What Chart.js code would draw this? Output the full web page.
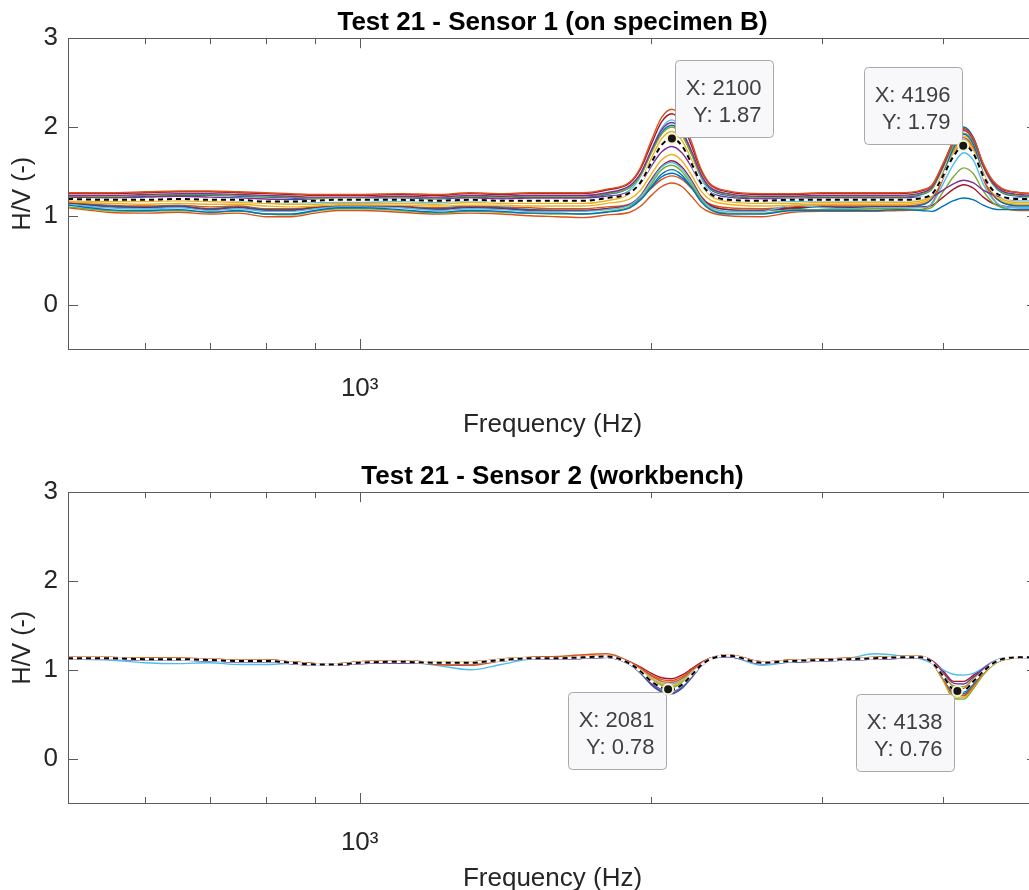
<!DOCTYPE html>
<html>
<head>
<meta charset="utf-8">
<title>Test 21 - H/V</title>
<script src="https://cdn.jsdelivr.net/npm/chart.js@4.4.1/dist/chart.umd.min.js"></script>
<style>
  html, body { margin: 0; padding: 0; background: #fff; overflow: hidden; }
  .panel { width: 1045px; height: 454px; }
</style>
</head>
<body>
<div class="panel"><canvas id="sensor1" width="1045" height="454"></canvas></div>
<div class="panel"><canvas id="sensor2" width="1045" height="454"></canvas></div>
<script>
// frequency grid (Hz), shared by every curve
const freq = [500, 550, 600, 650, 700, 750, 800, 850, 900, 950, 1000,
  1100, 1200, 1300, 1400, 1500, 1600, 1700, 1800,
  1900, 1950, 2000, 2050, 2100, 2150, 2200, 2250, 2300, 2400,
  2600, 2800, 3000, 3200, 3400, 3600, 3800,
  3900, 4000, 4100, 4200, 4300, 4400, 4500, 4600, 4800, 5000];

const xTicks = [500, 600, 700, 800, 900, 1000, 2000, 3000, 4000];
const yTicks = [0, 1, 2, 3];

// === Sensor 1 (on specimen B) ===
const s1Mean = [1.19,1.18,1.18,1.19,1.18,1.18,1.16,1.16,1.17,1.18,1.18,1.18,1.17,1.18,1.17,1.17,1.17,1.17,1.20,1.26,1.38,1.60,1.80,1.87,1.79,1.59,1.37,1.25,1.18,1.17,1.18,1.18,1.18,1.18,1.18,1.20,1.25,1.45,1.67,1.79,1.70,1.45,1.29,1.22,1.19,1.19];
const s1Runs = [
  [1.12,1.07,1.06,1.07,1.04,1.06,1.02,1.02,1.06,1.09,1.09,1.07,1.04,1.06,1.05,1.03,1.03,1.02,1.04,1.09,1.18,1.33,1.47,1.52,1.46,1.32,1.16,1.07,1.02,1.02,1.06,1.06,1.06,1.06,1.07,1.06,1.05,1.11,1.17,1.20,1.18,1.12,1.08,1.07,1.07,1.07],
  [1.26,1.26,1.27,1.28,1.28,1.27,1.26,1.25,1.24,1.24,1.24,1.25,1.24,1.26,1.25,1.26,1.26,1.26,1.30,1.38,1.55,1.85,2.11,2.20,2.09,1.83,1.53,1.36,1.28,1.25,1.25,1.26,1.26,1.26,1.26,1.29,1.35,1.59,1.83,1.97,1.87,1.59,1.40,1.31,1.26,1.25],
  [1.16,1.14,1.13,1.14,1.13,1.13,1.11,1.10,1.11,1.12,1.12,1.12,1.11,1.12,1.12,1.11,1.11,1.11,1.14,1.19,1.29,1.47,1.63,1.69,1.62,1.46,1.28,1.18,1.13,1.11,1.12,1.13,1.13,1.13,1.13,1.15,1.22,1.45,1.71,1.85,1.74,1.46,1.26,1.17,1.13,1.13],
  [1.21,1.20,1.21,1.22,1.21,1.20,1.19,1.18,1.18,1.18,1.18,1.19,1.18,1.20,1.19,1.20,1.20,1.20,1.22,1.27,1.37,1.56,1.72,1.78,1.71,1.55,1.36,1.26,1.21,1.19,1.19,1.20,1.20,1.20,1.20,1.21,1.22,1.29,1.36,1.40,1.37,1.29,1.24,1.21,1.20,1.19],
  [1.10,1.06,1.05,1.06,1.04,1.05,1.02,1.01,1.05,1.08,1.08,1.06,1.03,1.05,1.04,1.03,1.02,1.02,1.05,1.10,1.19,1.36,1.52,1.57,1.50,1.35,1.18,1.08,1.03,1.03,1.07,1.07,1.07,1.08,1.08,1.07,1.10,1.27,1.44,1.54,1.47,1.28,1.15,1.09,1.07,1.07],
  [1.13,1.09,1.08,1.09,1.06,1.08,1.05,1.05,1.08,1.10,1.10,1.09,1.06,1.08,1.07,1.05,1.05,1.05,1.07,1.12,1.22,1.39,1.55,1.60,1.53,1.38,1.20,1.10,1.05,1.05,1.12,1.09,1.08,1.09,1.09,1.09,1.14,1.36,1.58,1.71,1.62,1.36,1.19,1.11,1.09,1.09],
  [1.14,1.10,1.09,1.10,1.07,1.09,1.06,1.06,1.09,1.11,1.11,1.10,1.07,1.09,1.08,1.06,1.06,1.06,1.08,1.13,1.23,1.41,1.56,1.62,1.55,1.40,1.22,1.12,1.07,1.06,1.09,1.10,1.09,1.10,1.10,1.10,1.12,1.21,1.30,1.35,1.31,1.21,1.14,1.11,1.09,1.09],
  [1.14,1.11,1.10,1.11,1.08,1.10,1.07,1.07,1.09,1.11,1.11,1.10,1.08,1.10,1.09,1.07,1.06,1.06,1.08,1.12,1.19,1.32,1.44,1.48,1.43,1.32,1.18,1.11,1.07,1.06,1.08,1.10,1.10,1.10,1.10,1.12,1.20,1.47,1.76,1.92,1.80,1.47,1.25,1.15,1.11,1.11],
  [1.09,1.04,1.03,1.04,1.02,1.03,0.99,0.99,1.03,1.06,1.06,1.04,1.02,1.03,1.02,1.00,0.99,0.98,1.01,1.04,1.11,1.23,1.33,1.37,1.33,1.22,1.10,1.04,1.00,0.99,1.04,1.05,1.05,1.05,1.06,1.07,1.15,1.42,1.71,1.88,1.76,1.42,1.20,1.10,1.06,1.06],
  [1.17,1.16,1.16,1.17,1.16,1.15,1.14,1.13,1.13,1.14,1.14,1.14,1.13,1.15,1.14,1.14,1.14,1.14,1.17,1.25,1.39,1.65,1.87,1.95,1.85,1.63,1.37,1.23,1.16,1.14,1.14,1.15,1.15,1.15,1.15,1.17,1.24,1.49,1.75,1.90,1.79,1.49,1.29,1.19,1.15,1.15],
  [1.23,1.23,1.24,1.25,1.25,1.24,1.23,1.22,1.21,1.21,1.21,1.22,1.21,1.23,1.22,1.23,1.23,1.23,1.26,1.34,1.48,1.74,1.97,2.05,1.95,1.73,1.47,1.32,1.25,1.22,1.22,1.23,1.23,1.23,1.23,1.26,1.33,1.56,1.82,1.96,1.85,1.56,1.37,1.28,1.24,1.23],
  [1.22,1.22,1.23,1.24,1.24,1.23,1.22,1.21,1.20,1.20,1.20,1.21,1.20,1.22,1.21,1.22,1.22,1.22,1.25,1.32,1.46,1.71,1.92,2.00,1.91,1.69,1.45,1.31,1.24,1.21,1.21,1.22,1.22,1.22,1.22,1.25,1.31,1.54,1.79,1.93,1.83,1.55,1.36,1.27,1.23,1.22],
  [1.19,1.18,1.18,1.19,1.18,1.17,1.16,1.15,1.15,1.15,1.15,1.16,1.15,1.17,1.16,1.17,1.17,1.17,1.21,1.29,1.45,1.74,1.99,2.08,1.97,1.72,1.43,1.27,1.19,1.16,1.16,1.17,1.17,1.17,1.17,1.19,1.25,1.48,1.72,1.86,1.76,1.48,1.29,1.21,1.17,1.17],
  [1.25,1.25,1.26,1.27,1.27,1.26,1.25,1.24,1.23,1.23,1.23,1.24,1.23,1.25,1.24,1.25,1.25,1.25,1.29,1.37,1.53,1.81,2.06,2.15,2.04,1.79,1.51,1.35,1.27,1.24,1.24,1.25,1.25,1.25,1.25,1.28,1.35,1.58,1.84,1.98,1.87,1.58,1.39,1.30,1.26,1.25],
  [1.22,1.21,1.22,1.23,1.23,1.22,1.21,1.20,1.19,1.19,1.19,1.20,1.19,1.21,1.20,1.21,1.21,1.21,1.24,1.32,1.46,1.72,1.94,2.02,1.92,1.70,1.44,1.30,1.23,1.20,1.20,1.21,1.21,1.21,1.21,1.24,1.31,1.57,1.84,2.00,1.88,1.57,1.36,1.26,1.22,1.21],
  [1.15,1.12,1.11,1.12,1.10,1.11,1.08,1.08,1.10,1.12,1.12,1.11,1.09,1.11,1.10,1.09,1.08,1.08,1.10,1.13,1.20,1.31,1.41,1.45,1.41,1.31,1.19,1.13,1.09,1.08,1.10,1.11,1.11,1.11,1.11,1.13,1.20,1.43,1.68,1.82,1.71,1.43,1.24,1.15,1.12,1.12]
];
const s1TipX = [2100, 4196];
const s1TipY = [1.87, 1.79];

// === Sensor 2 (workbench) ===
const s2Mean = [1.13,1.13,1.12,1.12,1.11,1.10,1.10,1.08,1.06,1.06,1.08,1.09,1.08,1.08,1.11,1.13,1.13,1.14,1.15,1.07,0.98,0.87,0.80,0.78,0.83,0.94,1.05,1.12,1.16,1.08,1.10,1.11,1.12,1.13,1.14,1.14,1.08,0.93,0.78,0.77,0.87,0.98,1.07,1.12,1.14,1.14];
const s2Runs = [
  [1.13,1.13,1.12,1.12,1.11,1.10,1.10,1.08,1.06,1.06,1.08,1.09,1.08,1.08,1.11,1.13,1.13,1.14,1.15,1.07,0.98,0.87,0.80,0.78,0.83,0.94,1.05,1.12,1.16,1.08,1.10,1.11,1.12,1.13,1.14,1.14,1.08,0.92,0.76,0.75,0.85,0.97,1.07,1.12,1.14,1.14],
  [1.14,1.14,1.13,1.13,1.12,1.11,1.11,1.09,1.07,1.07,1.09,1.10,1.06,1.05,1.10,1.14,1.15,1.17,1.18,1.09,1.02,0.94,0.89,0.88,0.92,1.00,1.07,1.13,1.17,1.09,1.11,1.12,1.13,1.14,1.15,1.15,1.07,0.90,0.72,0.71,0.82,0.96,1.06,1.11,1.14,1.15],
  [1.14,1.14,1.13,1.13,1.12,1.11,1.11,1.09,1.07,1.07,1.09,1.10,1.09,1.09,1.12,1.14,1.14,1.15,1.16,1.08,1.00,0.90,0.84,0.82,0.87,0.96,1.06,1.12,1.17,1.09,1.11,1.12,1.13,1.14,1.15,1.15,1.07,0.89,0.70,0.69,0.81,0.95,1.06,1.11,1.14,1.15],
  [1.12,1.12,1.11,1.11,1.10,1.09,1.09,1.07,1.05,1.05,1.07,1.08,1.07,1.07,1.10,1.12,1.12,1.13,1.14,1.06,0.97,0.85,0.78,0.76,0.82,0.93,1.04,1.12,1.15,1.07,1.09,1.10,1.11,1.12,1.13,1.13,1.09,0.97,0.85,0.84,0.92,1.01,1.08,1.12,1.14,1.13],
  [1.13,1.13,1.12,1.12,1.11,1.10,1.10,1.08,1.06,1.06,1.08,1.09,1.08,1.08,1.11,1.13,1.13,1.14,1.15,1.07,0.99,0.88,0.82,0.80,0.85,0.95,1.05,1.12,1.16,1.08,1.10,1.11,1.12,1.13,1.14,1.14,1.07,0.88,0.68,0.67,0.79,0.94,1.05,1.11,1.14,1.14],
  [1.12,1.11,1.08,1.07,1.08,1.06,1.06,1.07,1.06,1.06,1.08,1.09,1.05,1.00,1.06,1.12,1.13,1.14,1.15,1.08,1.00,0.91,0.85,0.84,0.88,0.97,1.06,1.12,1.15,1.05,1.09,1.11,1.13,1.18,1.16,1.12,1.07,1.00,0.95,0.94,0.96,1.02,1.09,1.13,1.14,1.14],
  [1.14,1.14,1.13,1.13,1.12,1.11,1.11,1.09,1.07,1.07,1.09,1.10,1.09,1.09,1.12,1.14,1.14,1.15,1.16,1.09,1.03,0.96,0.91,0.90,0.94,1.01,1.08,1.13,1.17,1.09,1.11,1.12,1.13,1.14,1.15,1.15,1.10,0.99,0.87,0.87,0.94,1.02,1.09,1.12,1.14,1.15],
  [1.12,1.12,1.11,1.11,1.10,1.09,1.09,1.07,1.05,1.05,1.07,1.08,1.07,1.07,1.10,1.12,1.12,1.13,1.14,1.06,0.96,0.84,0.76,0.74,0.80,0.92,1.04,1.12,1.15,1.07,1.09,1.10,1.11,1.12,1.13,1.13,1.08,0.91,0.74,0.73,0.84,0.96,1.06,1.11,1.14,1.13],
  [1.13,1.13,1.12,1.12,1.11,1.10,1.10,1.08,1.06,1.06,1.08,1.09,1.08,1.08,1.11,1.13,1.13,1.14,1.15,1.08,1.01,0.93,0.87,0.86,0.90,0.99,1.07,1.13,1.16,1.08,1.10,1.11,1.12,1.13,1.14,1.14,1.09,0.94,0.80,0.79,0.88,0.99,1.08,1.12,1.14,1.14],
  [1.14,1.14,1.13,1.13,1.12,1.11,1.11,1.09,1.07,1.07,1.09,1.10,1.09,1.09,1.12,1.14,1.14,1.15,1.16,1.07,0.98,0.88,0.81,0.79,0.84,0.95,1.05,1.12,1.17,1.09,1.11,1.12,1.13,1.14,1.15,1.15,1.08,0.93,0.77,0.76,0.86,0.98,1.07,1.12,1.14,1.15],
  [1.12,1.12,1.11,1.11,1.10,1.09,1.09,1.07,1.05,1.05,1.07,1.08,1.07,1.07,1.10,1.12,1.12,1.13,1.14,1.06,0.96,0.83,0.75,0.73,0.79,0.91,1.04,1.12,1.15,1.07,1.09,1.10,1.11,1.12,1.13,1.13,1.07,0.90,0.72,0.71,0.82,0.96,1.06,1.11,1.14,1.13],
  [1.13,1.13,1.12,1.12,1.11,1.10,1.10,1.08,1.06,1.06,1.08,1.09,1.08,1.08,1.11,1.13,1.13,1.14,1.15,1.07,0.99,0.89,0.83,0.81,0.86,0.96,1.06,1.12,1.16,1.08,1.10,1.11,1.12,1.13,1.14,1.14,1.09,0.95,0.82,0.81,0.90,1.00,1.08,1.12,1.14,1.14]
];
const s2TipX = [2081, 4138];
const s2TipY = [0.78, 0.76];

// MATLAB default line colours
const lineColors = ["#0072BD", "#D95319", "#EDB120", "#7E2F8E", "#77AC30", "#4DBEEE", "#A2142F"];
const FONT = '"Liberation Sans", Arial, Helvetica, sans-serif';
Chart.defaults.font.family = FONT;

const toPoints = arr => arr.map((v, i) => ({ x: freq[i], y: v }));

// box around the axes with inward ticks, like MATLAB's "box on"
const axesBox = {
  id: "axesBox",
  afterDatasetsDraw(chart) {
    const { ctx, chartArea: a, scales: { x, y } } = chart;
    ctx.save();
    ctx.strokeStyle = "#5a5a5a";
    ctx.lineWidth = 1;
    ctx.strokeRect(Math.round(a.left) + 0.5, Math.round(a.top) + 0.5, Math.round(a.right - a.left), Math.round(a.bottom - a.top));
    ctx.beginPath();
    xTicks.forEach(v => {
      const px = Math.round(x.getPixelForValue(v)) + 0.5;
      const len = v === 1000 ? 10 : 6;
      ctx.moveTo(px, a.bottom); ctx.lineTo(px, a.bottom - len);
      ctx.moveTo(px, a.top); ctx.lineTo(px, a.top + len);
    });
    yTicks.forEach(v => {
      const py = Math.round(y.getPixelForValue(v)) + 0.5;
      ctx.moveTo(a.left, py); ctx.lineTo(a.left + 10, py);
      ctx.moveTo(a.right, py); ctx.lineTo(a.right - 10, py);
    });
    ctx.stroke();
    ctx.restore();
  }
};

// MATLAB style data tips
const dataTips = {
  id: "dataTips",
  afterDraw(chart, args, opts) {
    const { ctx, scales: { x, y } } = chart;
    const w = 98, h = 77;
    opts.tips.forEach(t => {
      const px = x.getPixelForValue(t.x), py = y.getPixelForValue(t.y);
      const bx = Math.round(px + t.dx) + 0.5, by = Math.round(py + t.dy) + 0.5;
      ctx.save();
      ctx.beginPath();
      if (ctx.roundRect) ctx.roundRect(bx, by, w, h, 4); else ctx.rect(bx, by, w, h);
      ctx.fillStyle = "#f8f8fb";
      ctx.fill();
      ctx.strokeStyle = "#a8a8a8";
      ctx.lineWidth = 1;
      ctx.stroke();
      ctx.fillStyle = "#404040";
      ctx.font = "22px " + FONT;
      ctx.textAlign = "right";
      ctx.textBaseline = "alphabetic";
      ctx.fillText("X: " + t.x, bx + w - 12, by + 34);
      ctx.fillText("Y: " + t.y.toFixed(2), bx + w - 12, by + 61);
      ctx.beginPath();
      ctx.arc(px, py, 5, 0, Math.PI * 2);
      ctx.fillStyle = "#161616";
      ctx.fill();
      ctx.strokeStyle = "#f4f4d0";
      ctx.lineWidth = 2;
      ctx.stroke();
      ctx.restore();
    });
  }
};

function makeChart(canvasId, titleText, runs, mean, tips) {
  const datasets = [
    { data: toPoints(mean), borderColor: "#000000", borderWidth: 2, borderDash: [5, 4] },
    { data: toPoints(mean), borderColor: "#ffffff", borderWidth: 2.5 }
  ];
  runs.forEach((r, i) => datasets.push({
    data: toPoints(r),
    borderColor: lineColors[i % lineColors.length],
    borderWidth: 1.4
  }));

  return new Chart(document.getElementById(canvasId).getContext("2d"), {
    type: "line",
    data: { datasets },
    plugins: [axesBox, dataTips],
    options: {
      responsive: false,
      animation: false,
      devicePixelRatio: 1,
      layout: { padding: { left: 0, right: 8, top: 0, bottom: 0 } },
      elements: {
        point: { radius: 0 },
        line: { cubicInterpolationMode: "monotone" }
      },
      plugins: {
        legend: { display: false },
        tooltip: { enabled: false },
        title: {
          display: true,
          text: titleText,
          fullSize: false,
          color: "#000000",
          font: { size: 26, weight: "bold" },
          padding: { top: 7, bottom: 0 }
        },
        dataTips: { tips }
      },
      scales: {
        x: {
          type: "logarithmic",
          min: 500,
          max: 5000,
          afterBuildTicks: s => { s.ticks = xTicks.map(v => ({ value: v })); },
          afterFit: s => { s.height = 105; },
          grid: { display: false, drawTicks: false },
          border: { display: false },
          ticks: {
            autoSkip: false,
            maxRotation: 0,
            padding: 24,
            color: "#262626",
            font: { size: 26 },
            callback: v => (v === 1000 ? "10³" : "")
          },
          title: {
            display: true,
            text: "Frequency (Hz)",
            color: "#262626",
            font: { size: 26 },
            padding: { top: 0, bottom: 14 }
          }
        },
        y: {
          min: -0.5,
          max: 3,
          afterBuildTicks: s => { s.ticks = yTicks.map(v => ({ value: v })); },
          afterFit: s => { s.width = 68; },
          grid: { display: false, drawTicks: false },
          border: { display: false },
          ticks: { padding: 10, color: "#262626", font: { size: 26 } },
          title: {
            display: true,
            text: "H/V (-)",
            color: "#262626",
            font: { size: 25 },
            padding: { top: 8, bottom: 0 }
          }
        }
      }
    }
  });
}

const chart1 = makeChart("sensor1", "Test 21 - Sensor 1 (on specimen B)", s1Runs, s1Mean, [
  { x: s1TipX[0], y: s1TipY[0], dx: 3, dy: -79 },
  { x: s1TipX[1], y: s1TipY[1], dx: -99, dy: -79 }
]);
const chart2 = makeChart("sensor2", "Test 21 - Sensor 2 (workbench)", s2Runs, s2Mean, [
  { x: s2TipX[0], y: s2TipY[0], dx: -100, dy: 3 },
  { x: s2TipX[1], y: s2TipY[1], dx: -101, dy: 3 }
]);
</script>
</body>
</html>
